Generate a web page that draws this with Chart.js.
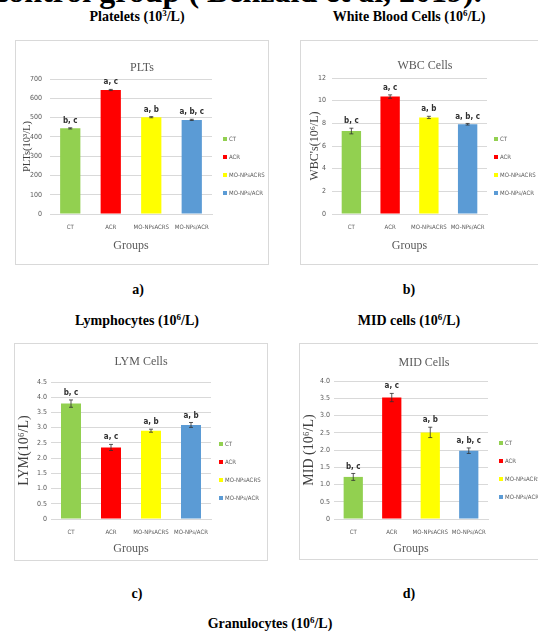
<!DOCTYPE html>
<html>
<head>
<meta charset="utf-8">
<script src="https://cdn.jsdelivr.net/npm/chart.js@4.4.1/dist/chart.umd.min.js"></script>
<style>
html,body{margin:0;padding:0;background:#fff;}
body{width:538px;height:633px;position:relative;overflow:hidden;font-family:'Liberation Serif','Times New Roman',serif;}
.cap{position:absolute;font-weight:bold;font-size:14px;color:#000;white-space:nowrap;transform:translate(-50%,-50%);line-height:1;}
.cap sup{font-size:9px;vertical-align:top;position:relative;top:-1px;}
.panel{position:absolute;border:1px solid #d9d9d9;background:#fff;}
.panel canvas{display:block;}
#top{position:absolute;left:-6px;top:-25px;font-size:32px;font-weight:bold;white-space:nowrap;line-height:1;color:#000;}
</style>
</head>
<body>
<div id="top">control group ( Benzaid et al, 2019).</div>
<div class="cap" style="left:137px;top:17px">Platelets (10<sup>3</sup>/L)</div>
<div class="cap" style="left:409px;top:17px">White Blood Cells (10<sup>6</sup>/L)</div>
<div class="cap" style="left:138px;top:290px">a)</div>
<div class="cap" style="left:409px;top:290px">b)</div>
<div class="cap" style="left:137px;top:321px">Lymphocytes (10<sup>6</sup>/L)</div>
<div class="cap" style="left:409px;top:321px">MID cells (10<sup>6</sup>/L)</div>
<div class="cap" style="left:137px;top:594px">c)</div>
<div class="cap" style="left:409px;top:594px">d)</div>
<div class="cap" style="left:270px;top:624px">Granulocytes (10<sup>6</sup>/L)</div>

<div class="panel" style="left:15px;top:40px;width:252px;height:223px"><canvas id="cA" width="252" height="223"></canvas></div>
<div class="panel" style="left:300px;top:40px;width:248px;height:223px"><canvas id="cB" width="248" height="223"></canvas></div>
<div class="panel" style="left:14px;top:343px;width:252px;height:216px"><canvas id="cC" width="252" height="216"></canvas></div>
<div class="panel" style="left:299px;top:343px;width:248px;height:215px"><canvas id="cD" width="248" height="215"></canvas></div>

<script>
// ---- data ----
const groups = ['CT', 'ACR', 'MO-NPsACRS', 'MO-NPs/ACR'];
const groupColors = ['#92d050', '#ff0000', '#ffff00', '#5b9bd5'];

const pltValues = [444, 643, 502, 488];
const pltErrors = [3, 3, 3, 3];
const pltLetters = ['b, c', 'a, c', 'a, b', 'a, b, c'];
const pltTicks = [0, 100, 200, 300, 400, 500, 600, 700];

const wbcValues = [7.32, 10.36, 8.52, 7.92];
const wbcErrors = [0.25, 0.15, 0.1, 0.07];
const wbcLetters = ['b, c', 'a, c', 'a, b', 'a, b, c'];
const wbcTicks = [0, 2, 4, 6, 8, 10, 12];

const lymValues = [3.79, 2.35, 2.9, 3.09];
const lymErrors = [0.12, 0.1, 0.05, 0.08];
const lymLetters = ['b, c', 'a, c', 'a, b', 'a, b'];
const lymTicks = [0, 0.5, 1, 1.5, 2, 2.5, 3, 3.5, 4, 4.5];

const midValues = [1.22, 3.52, 2.51, 1.98];
const midErrors = [0.1, 0.12, 0.15, 0.08];
const midLetters = ['b, c', 'a, c', 'a, b', 'a, b, c'];
const midTicks = [0, 0.5, 1, 1.5, 2, 2.5, 3, 3.5, 4];

// ---- styles ----
const SERIF = "'Liberation Serif', 'Times New Roman', serif";
const NARROW = "'Liberation Sans Narrow', 'DejaVu Sans Condensed', 'Liberation Sans', sans-serif";

const errLabelPlugin = {
  id: 'errLabels',
  afterDatasetsDraw(chart, args, opts) {
    const ctx = chart.ctx;
    const meta = chart.getDatasetMeta(0);
    const ys = chart.scales.y;
    const vals = chart.data.datasets[0].data;
    ctx.save();
    meta.data.forEach((bar, i) => {
      const v = vals[i], e = opts.errors[i];
      const yt = ys.getPixelForValue(v + e), yb = ys.getPixelForValue(v - e);
      ctx.strokeStyle = '#303030';
      ctx.lineWidth = 0.8;
      ctx.beginPath();
      ctx.moveTo(bar.x, yt); ctx.lineTo(bar.x, yb);
      ctx.moveTo(bar.x - 2, yt); ctx.lineTo(bar.x + 2, yt);
      ctx.moveTo(bar.x - 2, yb); ctx.lineTo(bar.x + 2, yb);
      ctx.stroke();
      ctx.fillStyle = '#303030';
      ctx.font = "bold 8px " + NARROW;
      ctx.textAlign = 'center';
      ctx.textBaseline = 'bottom';
      ctx.fillText(opts.letters[i], bar.x, yt - 3);
    });
    ctx.restore();
  }
};

const sideLegendPlugin = {
  id: 'sideLegend',
  afterDraw(chart, args, opts) {
    const ctx = chart.ctx;
    const ds = chart.data.datasets[0];
    ctx.save();
    ctx.font = "6px " + NARROW;
    ctx.textBaseline = 'middle';
    ctx.textAlign = 'left';
    chart.data.labels.forEach((lab, i) => {
      const y = opts.top + i * opts.gap;
      ctx.fillStyle = ds.backgroundColor[i];
      ctx.fillRect(opts.left, y - 2, 4, 4);
      ctx.fillStyle = '#595959';
      ctx.fillText(lab, opts.left + 6, y);
    });
    ctx.restore();
  }
};

function makeChart(id, values, errors, letters, ticks, title, yTitle, L) {
  new Chart(document.getElementById(id), {
    type: 'bar',
    data: {
      labels: groups,
      datasets: [{ data: values, backgroundColor: groupColors, barPercentage: 0.5, categoryPercentage: 1 }]
    },
    options: {
      responsive: false,
      animation: false,
      devicePixelRatio: 1,
      layout: { padding: 0 },
      plugins: {
        legend: { display: false },
        tooltip: { enabled: false },
        title: {
          display: true, text: title, color: '#595959',
          font: { family: SERIF, size: 12, weight: 'normal' },
          padding: { top: L.titleTop, bottom: L.titleBottom }
        },
        errLabels: { errors: errors, letters: letters },
        sideLegend: { left: L.legLeft, top: L.legTop, gap: 18 }
      },
      scales: {
        x: {
          grid: { display: false, drawTicks: false },
          border: { display: true, color: '#d9d9d9' },
          ticks: { padding: L.xTickPad, color: '#595959', font: { family: NARROW, size: 6 }, maxRotation: 0, minRotation: 0, autoSkip: false },
          title: { display: true, text: 'Groups', color: '#595959', font: { family: SERIF, size: 12 }, padding: { top: 0, bottom: L.groupsPad } },
          afterFit: s => { s.height = L.xHeight; }
        },
        y: {
          min: ticks[0], max: ticks[ticks.length - 1],
          afterBuildTicks: s => { s.ticks = ticks.map(v => ({ value: v })); },
          grid: { color: '#d9d9d9', drawTicks: false },
          border: { display: false },
          ticks: { padding: L.yTickPad, color: '#595959', font: { family: NARROW, size: 7 } },
          title: { display: true, text: yTitle, color: '#404040', font: { family: SERIF, size: L.yTitleSize }, padding: { top: L.yTitlePad, bottom: 0 } },
          afterFit: s => { s.width = L.yWidth; }
        },
        legendSpace: {
          type: 'linear', position: 'right', display: true,
          ticks: { display: false }, grid: { display: false, drawTicks: false }, border: { display: false },
          afterFit: s => { s.width = L.padRight; }
        }
      }
    },
    plugins: [errLabelPlugin, sideLegendPlugin]
  });
}

makeChart('cA', pltValues, pltErrors, pltLetters, pltTicks, 'PLTs', 'PLTs(10³/L)',
  { padRight: 56, titleTop: 19.8, titleBottom: 3.8, xTickPad: 9.4, groupsPad: 10.8, xHeight: 50, yTickPad: 8, yTitleSize: 10.5, yTitlePad: 5, yWidth: 34, legLeft: 207, legTop: 98 });
makeChart('cB', wbcValues, wbcErrors, wbcLetters, wbcTicks, 'WBC Cells', "WBC's(10⁶/L)",
  { padRight: 62, titleTop: 17.8, titleBottom: 4.8, xTickPad: 9.4, groupsPad: 10.8, xHeight: 50, yTickPad: 6, yTitleSize: 12, yTitlePad: 6.8, yWidth: 31, legLeft: 193, legTop: 98 });
makeChart('cC', lymValues, lymErrors, lymLetters, lymTicks, 'LYM Cells', 'LYM(10⁶/L)',
  { padRight: 56, titleTop: 10.8, titleBottom: 12.8, xTickPad: 9.4, groupsPad: 3.8, xHeight: 41, yTickPad: 4, yTitleSize: 14, yTitlePad: 0.5, yWidth: 36, legLeft: 204, legTop: 100 });
makeChart('cD', midValues, midErrors, midLetters, midTicks, 'MID Cells', 'MID (10⁶/L)',
  { padRight: 60, titleTop: 11.8, titleBottom: 10.8, xTickPad: 9.4, groupsPad: 2.8, xHeight: 40, yTickPad: 4, yTitleSize: 14, yTitlePad: 0.5, yWidth: 34, legLeft: 199, legTop: 99 });
</script>
</body>
</html>
